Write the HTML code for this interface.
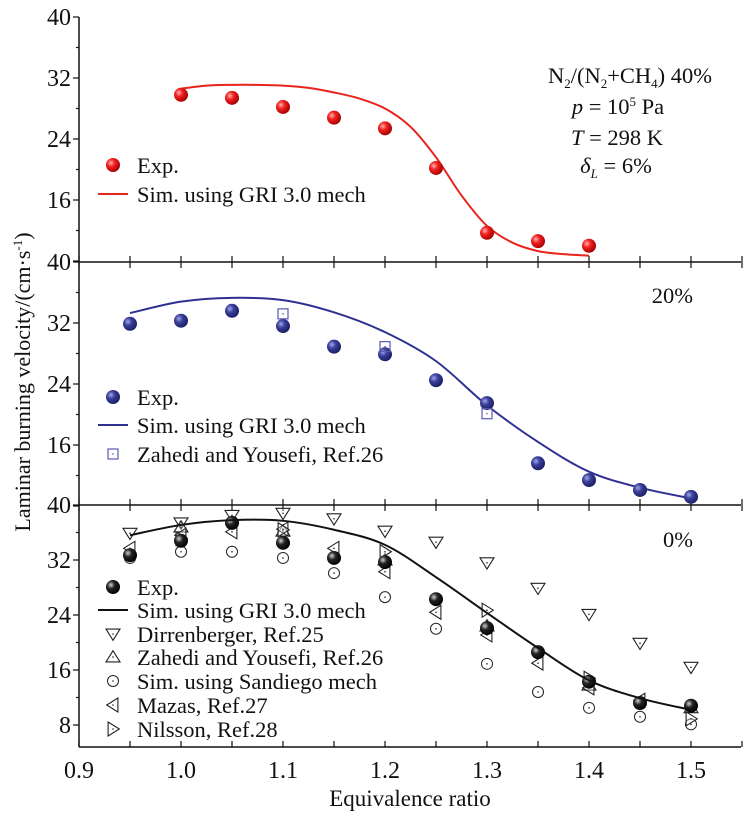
<!DOCTYPE html>
<html><head><meta charset="utf-8">
<style>
body{margin:0;background:#fff;}
svg{display:block;font-family:"Liberation Serif",serif;}
</style></head>
<body>
<svg id="c" width="750" height="815" viewBox="0 0 750 815" xmlns="http://www.w3.org/2000/svg">
<defs>
<radialGradient id="gR" cx="0.35" cy="0.35" r="0.7"><stop offset="0" stop-color="#ffb0b0"/><stop offset="0.4" stop-color="#f02020"/><stop offset="1" stop-color="#a00000"/></radialGradient>
<radialGradient id="gB" cx="0.35" cy="0.35" r="0.7"><stop offset="0" stop-color="#a0a8e8"/><stop offset="0.4" stop-color="#3a3f9a"/><stop offset="1" stop-color="#1a1d60"/></radialGradient>
<radialGradient id="gK" cx="0.35" cy="0.35" r="0.7"><stop offset="0" stop-color="#d0d0d0"/><stop offset="0.4" stop-color="#222"/><stop offset="1" stop-color="#000"/></radialGradient>
</defs>
<g id="root"></g>
</svg>
<script>
// ---- data ----
const phi = [0.95,1.0,1.05,1.1,1.15,1.2,1.25,1.3,1.35,1.4,1.45,1.5];
// 40% panel
const p40ExpX = [1.0,1.05,1.1,1.15,1.2,1.25,1.3,1.35,1.4];
const p40ExpY = [29.8,29.4,28.2,26.8,25.4,20.2,11.7,10.6,10.0];
const p40SimX = [1.0,1.025,1.05,1.075,1.1,1.125,1.15,1.175,1.2,1.225,1.25,1.275,1.3,1.325,1.35,1.375,1.4];
const p40SimY = [30.6,31.0,31.1,31.1,31.0,30.7,30.1,29.3,28.0,25.6,21.6,16.6,12.6,10.4,9.3,8.9,8.7];
// 20% panel
const p20ExpY = [31.9,32.3,33.6,31.6,28.9,27.9,24.5,21.5,13.6,11.4,10.1,9.2];
const p20SimY = [33.3,34.8,35.3,35.0,33.4,30.8,27.0,21.2,16.4,12.5,10.4,9.0];
const p20ZahX = [1.1,1.2,1.3];
const p20ZahY = [33.2,28.9,20.1];
// 0% panel
const p0ExpY = [32.7,34.8,37.4,34.5,32.3,31.7,26.3,22.1,18.6,14.3,11.2,10.8];
const p0SimY = [35.6,37.1,37.8,37.7,36.4,34.2,29.5,24.3,19.2,14.5,11.9,10.2];
const dirY = [35.9,37.4,38.5,38.8,38.0,36.2,34.6,31.6,27.9,24.1,19.9,16.4];
const zahX = [1.0,1.1,1.2,1.3,1.4,1.5];
const zahY = [36.8,36.2,32.0,22.4,13.8,10.5];
const sdY = [32.3,33.2,33.2,32.3,30.1,26.6,22.0,16.9,12.8,10.5,9.2,8.1];
const mazX = [0.95,1.0,1.05,1.1,1.15,1.2,1.25,1.3,1.35,1.4,1.45];
const mazY = [33.7,35.6,36.1,36.5,33.7,30.3,24.4,21.1,17.0,13.4,11.6];
const nilX = [1.0,1.1,1.2,1.3,1.4,1.5];
const nilY = [35.1,36.4,33.2,24.7,14.8,8.9];
const xTicks = [0.9,1.0,1.1,1.2,1.3,1.4,1.5];
const yTicksTop = [40,32,24,16];
const yTicksBot = [40,32,24,16,8];

// ---- geometry ----
const NS="http://www.w3.org/2000/svg";
const root=document.getElementById('root');
const X0=79, XR=741;
const FS=22.5;
const xs = v => X0 + (v-0.9)/0.05*51;
const panels = [
 {top:17, bot:262, y40:17, ppu:61/8},
 {top:262, bot:505, y40:262, ppu:61/8},
 {top:505, bot:747, y40:505, ppu:55/8}
];
const ys = (p,v) => p.y40 + (40-v)*p.ppu;
function el(tag,attrs,parent){const e=document.createElementNS(NS,tag);for(const k in attrs)e.setAttribute(k,attrs[k]);(parent||root).appendChild(e);return e;}
function txt(s,x,y,attrs,parent){const t=el('text',Object.assign({x:x,y:y,'font-size':FS,fill:'#111'},attrs||{}),parent);t.textContent=s;return t;}

// axes
const ax=el('g',{});


el('line',{x1:X0,y1:17,x2:X0,y2:747,stroke:'#111','stroke-width':1.5},ax);
el('line',{x1:X0,y1:262,x2:XR,y2:262,stroke:'#111','stroke-width':1.5},ax);
el('line',{x1:X0,y1:505,x2:XR,y2:505,stroke:'#111','stroke-width':1.5},ax);
el('line',{x1:X0,y1:747,x2:XR,y2:747,stroke:'#111','stroke-width':1.5},ax);
panels.forEach((p,i)=>{
  for(let v=0.9;v<=1.551;v+=0.05){
    const x=xs(v);
    el('line',{x1:x,y1:p.bot,x2:x,y2:p.bot-6,stroke:'#111','stroke-width':1.2},ax);
    if(i>0) el('line',{x1:x,y1:p.top,x2:x,y2:p.top+6,stroke:'#111','stroke-width':1.2},ax);
  }
  const ticks = i<2 ? yTicksTop : yTicksBot;
  for(let v=40; ys(p,v)<=p.bot+1; v-=4){
    const y=ys(p,v); const major = v%8===0;
    el('line',{x1:X0,y1:y,x2:X0-(major?6:3),y2:y,stroke:'#111','stroke-width':1.2},ax);
  }
  ticks.forEach(v=>{
    const t=txt(String(v),71,ys(p,v)+8,{'text-anchor':'end','font-size':24},ax);
    
    
  });
});
xTicks.forEach(v=>{
  const t=txt(v.toFixed(1),xs(v),778,{'text-anchor':'middle','font-size':24},ax);
  
  
});
const xt=txt('Equivalence ratio',410,806,{'text-anchor':'middle','font-size':23});


const yt=el('text',{x:0,y:0,'font-size':22,fill:'#111','text-anchor':'middle',transform:'translate(30,382) rotate(-90)'});


yt.innerHTML='Laminar burning velocity/(cm·s<tspan dy="-8" font-size="13">-1</tspan><tspan dy="8">)</tspan>';

// markers
function sphere(x,y,grad,g){return el('circle',{cx:x,cy:y,r:7,fill:'url(#'+grad+')'},g);}
function openMark(type,x,y,g,color){
  color=color||'#222';
  const s=7; let e;
  if(type==='circle') e=el('circle',{cx:x,cy:y,r:5.5,fill:'none',stroke:color,'stroke-width':1},g);
  else if(type==='square') e=el('rect',{x:x-5,y:y-5,width:10,height:10,fill:'none',stroke:color,'stroke-width':1.2},g);
  else {
    let pts;
    if(type==='down') pts=[[x-s,y-s*0.7],[x+s,y-s*0.7],[x,y+s*0.9]];
    if(type==='up') pts=[[x-s,y+s*0.7],[x+s,y+s*0.7],[x,y-s*0.9]];
    if(type==='left') pts=[[x+s*0.7,y-s],[x+s*0.7,y+s],[x-s*0.9,y]];
    if(type==='right') pts=[[x-s*0.7,y-s],[x-s*0.7,y+s],[x+s*0.9,y]];
    e=el('polygon',{points:pts.map(p=>p.join(',')).join(' '),fill:'#fff','fill-opacity':0.3,stroke:color,'stroke-width':1.1},g);
  }
  el('circle',{cx:x,cy:y,r:0.8,fill:color},g);
  return e;
}
function smoothPath(xv,yv,p,color,name){
  const P=xv.map((v,i)=>[xs(v),ys(p,yv[i])]);
  let d='M'+P[0][0]+','+P[0][1];
  for(let i=0;i<P.length-1;i++){
    const p0=P[i-1]||P[i],p1=P[i],p2=P[i+1],p3=P[i+2]||P[i+1];
    const c1=[p1[0]+(p2[0]-p0[0])/6,p1[1]+(p2[1]-p0[1])/6];
    const c2=[p2[0]-(p3[0]-p1[0])/6,p2[1]-(p3[1]-p1[1])/6];
    d+=' C'+c1.join(',')+' '+c2.join(',')+' '+p2.join(',');
  }
  const e=el('path',{d:d,fill:'none',stroke:color,'stroke-width':2});
  
  
}

// Panel 40%
smoothPath(p40SimX,p40SimY,panels[0],'#e8241c','sim-line-40');
const g40=el('g',{});


p40ExpX.forEach((v,i)=>sphere(xs(v),ys(panels[0],p40ExpY[i]),'gR',g40));

// Panel 20%
smoothPath(phi,p20SimY,panels[1],'#2e3192','sim-line-20');
const g20=el('g',{});


phi.forEach((v,i)=>sphere(xs(v),ys(panels[1],p20ExpY[i]),'gB',g20));
const g20z=el('g',{});


p20ZahX.forEach((v,i)=>openMark('square',xs(v),ys(panels[1],p20ZahY[i]),g20z,'#5a5ab0'));

// Panel 0%
const P=panels[2];
function series(name,xv,yv,type){
  const g=el('g',{});
  
  
  xv.forEach((v,i)=>openMark(type,xs(v),ys(P,yv[i]),g));
}
series('sandiego-points',phi,sdY,'circle');
series('dirrenberger-points',phi,dirY,'down');
series('zahedi-points',zahX,zahY,'up');
series('mazas-points',mazX,mazY,'left');
series('nilsson-points',nilX,nilY,'right');
const g0=el('g',{});


phi.forEach((v,i)=>sphere(xs(v),ys(P,p0ExpY[i]),'gK',g0));
smoothPath(phi,p0SimY,P,'#111','sim-line-0');

// legends
function legend(name,rows){
  const g=el('g',{});
  
  
  rows.forEach(r=>{
    if(r.k==='sphere') sphere(113,r.y,r.g,g);
    else if(r.k==='line') el('line',{x1:98,y1:r.y,x2:128,y2:r.y,stroke:r.c,'stroke-width':2},g);
    else openMark(r.k,113,r.y,g,r.c);
    txt(r.t,137,r.y+8,{'font-size':FS},g);
  });
}
legend('legend-40',[{k:'sphere',g:'gR',y:165,t:'Exp.'},{k:'line',c:'#e8241c',y:194,t:'Sim. using GRI 3.0 mech'}]);
legend('legend-20',[{k:'sphere',g:'gB',y:397,t:'Exp.'},{k:'line',c:'#2e3192',y:425,t:'Sim. using GRI 3.0 mech'},{k:'square',c:'#5a5ab0',y:454,t:'Zahedi and Yousefi, Ref.26'}]);
legend('legend-0',[{k:'sphere',g:'gK',y:587,t:'Exp.'},{k:'line',c:'#111',y:610,t:'Sim. using GRI 3.0 mech'},{k:'down',y:634,t:'Dirrenberger, Ref.25'},{k:'up',y:657,t:'Zahedi and Yousefi, Ref.26'},{k:'circle',y:681,t:'Sim. using Sandiego mech'},{k:'left',y:705,t:'Mazas, Ref.27'},{k:'right',y:729,t:'Nilsson, Ref.28'}]);

// annotations
const ann=el('g',{});


let a=el('text',{x:630,y:83,'font-size':FS,fill:'#111','text-anchor':'middle'},ann);
a.innerHTML='N<tspan dy="5" font-size="13">2</tspan><tspan dy="-5">/(N</tspan><tspan dy="5" font-size="13">2</tspan><tspan dy="-5">+CH</tspan><tspan dy="5" font-size="13">4</tspan><tspan dy="-5">)  40%</tspan>';
a=el('text',{x:618,y:114,'font-size':FS,fill:'#111','text-anchor':'middle'},ann);
a.innerHTML='<tspan font-style="italic">p</tspan> = 10<tspan dy="-8" font-size="13">5</tspan><tspan dy="8"> Pa</tspan>';
a=el('text',{x:617,y:145,'font-size':FS,fill:'#111','text-anchor':'middle'},ann);
a.innerHTML='<tspan font-style="italic">T</tspan> = 298 K';
a=el('text',{x:616,y:173,'font-size':FS,fill:'#111','text-anchor':'middle'},ann);
a.innerHTML='<tspan font-style="italic">δ</tspan><tspan dy="5" font-size="13" font-style="italic">L</tspan><tspan dy="-5"> = 6%</tspan>';
const l20=txt('20%',693,303,{'text-anchor':'end','font-size':FS});


const l0=txt('0%',693,547,{'text-anchor':'end','font-size':FS});


</script>
</body></html>
